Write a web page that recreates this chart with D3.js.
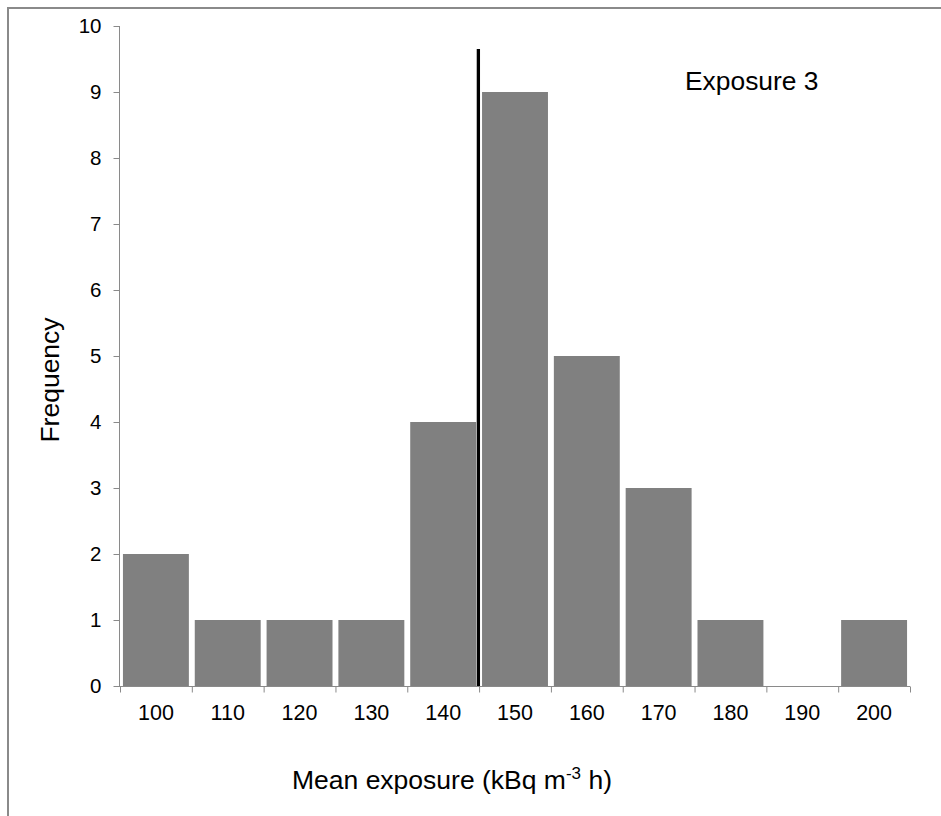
<!DOCTYPE html>
<html>
<head>
<meta charset="utf-8">
<script src="https://cdn.jsdelivr.net/npm/d3@7/dist/d3.min.js"></script>
<style>
  html, body { margin: 0; padding: 0; background: #fff; }
  svg { display: block; font-family: Arial, "Liberation Sans", sans-serif; }
</style>
</head>
<body>
<svg id="chart" width="941" height="816"></svg>
<script>
// ---- data ----
const categories = [100, 110, 120, 130, 140, 150, 160, 170, 180, 190, 200];
const frequencies = [2, 1, 1, 1, 4, 9, 5, 3, 1, 0, 1];
const yTicks = [0, 1, 2, 3, 4, 5, 6, 7, 8, 9, 10];
const meanExposure = 144.9;
const meanLineTop = 9.65;
const chartLabel = "Exposure 3";
const yTitle = "Frequency";

// ---- layout ----
const svg = d3.select("#chart");
const plotLeft = 120, plotRight = 910, plotTop = 26, plotBottom = 686;

const x = d3.scaleBand().domain(categories).range([plotLeft, plotRight]).paddingInner(0.082).paddingOuter(0.041);
const xLin = d3.scaleLinear()
  .domain([categories[0] - 5, categories[categories.length - 1] + 5])
  .range([plotLeft, plotRight]);
const y = d3.scaleLinear().domain([0, 10]).range([plotBottom, plotTop]);

// outer border (only top/left visible)
svg.append("rect")
  .attr("x", 8).attr("y", 8).attr("width", 1200).attr("height", 1200)
  .attr("fill", "none").attr("stroke", "#8a8a8a").attr("stroke-width", 2);

// bars
svg.append("g").selectAll("rect")
  .data(categories.map((c, i) => ({ c, v: frequencies[i] })))
  .join("rect")
  .attr("x", d => x(d.c))
  .attr("width", x.bandwidth())
  .attr("y", d => y(d.v))
  .attr("height", d => y(0) - y(d.v))
  .attr("fill", "#808080");

// y axis
const yAxis = svg.append("g").attr("transform", `translate(${plotLeft - 0.5},0)`)
  .call(d3.axisLeft(y).tickValues(yTicks).tickSize(6).tickPadding(12).tickFormat(d3.format("d")));
yAxis.select(".domain").attr("stroke", "#8a8a8a").attr("d", `M0,${plotTop}H0V${plotBottom}`);
yAxis.selectAll(".tick line").attr("stroke", "#8a8a8a");
yAxis.selectAll(".tick text").attr("font-size", 20.5).attr("fill", "#000")
  .attr("font-family", "Arial, 'Liberation Sans', sans-serif");

// x axis (ticks at bin boundaries, labels at centers)
const boundaries = d3.range(categories.length + 1).map(i => categories[0] - 5 + i * 10);
const xAxis = svg.append("g").attr("transform", `translate(0,${plotBottom + 0.5})`)
  .call(d3.axisBottom(xLin).tickValues(boundaries).tickSize(6).tickFormat(""));
xAxis.select(".domain").attr("stroke", "#8a8a8a").attr("d", `M${plotLeft - 1},0H${plotRight}`);
xAxis.selectAll(".tick line").attr("stroke", "#8a8a8a");

svg.append("g").selectAll("text")
  .data(categories)
  .join("text")
  .attr("x", d => xLin(d))
  .attr("y", 719.5)
  .attr("text-anchor", "middle")
  .attr("font-size", 21.5)
  .attr("fill", "#000")
  .text(d => d);

// mean line
svg.append("line")
  .attr("x1", xLin(meanExposure)).attr("x2", xLin(meanExposure))
  .attr("y1", y(meanLineTop)).attr("y2", y(0))
  .attr("stroke", "#000").attr("stroke-width", 3.3);

// label
svg.append("text")
  .attr("x", 685).attr("y", 89.5)
  .attr("font-size", 26.4).attr("fill", "#000")
  .text(chartLabel);

// y title
svg.append("text")
  .attr("transform", `translate(58.5,380) rotate(-90)`)
  .attr("text-anchor", "middle")
  .attr("font-size", 26.5).attr("fill", "#000")
  .text(yTitle);

// x title with superscript
const xt = svg.append("text")
  .attr("x", 452).attr("y", 788.5)
  .attr("text-anchor", "middle")
  .attr("font-size", 26.5).attr("fill", "#000");
xt.append("tspan").text("Mean exposure (kBq m");
xt.append("tspan").attr("font-size", 17).attr("dy", -10).text("-3");
xt.append("tspan").attr("dy", 10).text(" h)");
</script>
</body>
</html>
